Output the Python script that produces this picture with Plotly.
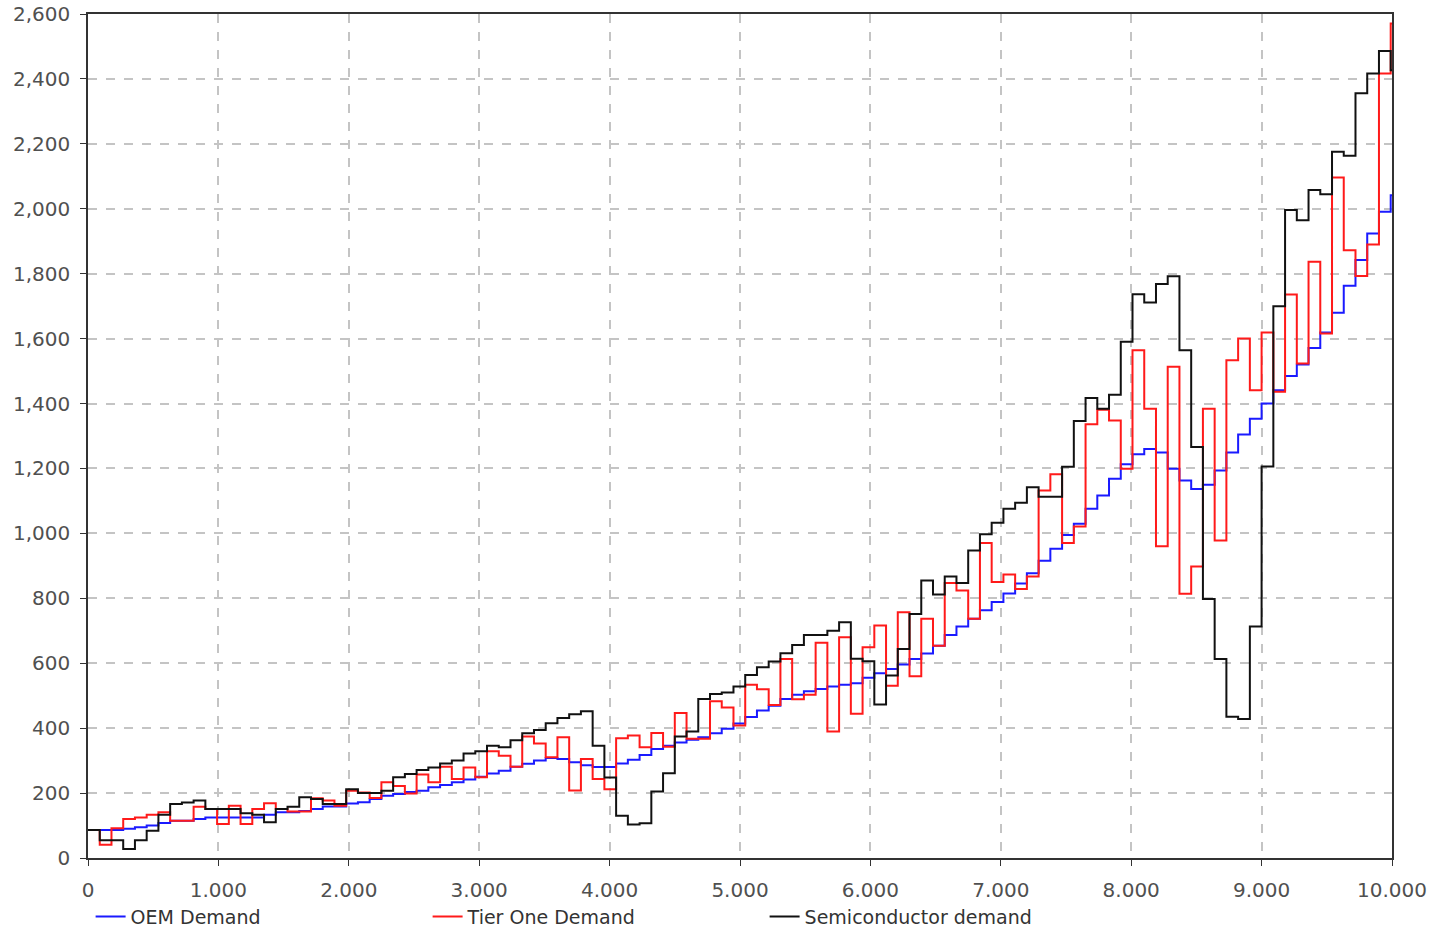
import plotly.graph_objects as go

STEP = 90  # time units per step
time = [STEP * k for k in range(112)] + [10000]

oem_demand = [
    86, 86, 86, 90, 95, 100, 108, 115, 115, 120, 125, 125, 125, 125, 125, 133, 141, 141, 145, 151, 159, 159, 168, 172, 182,
    192, 197, 203, 207, 218, 225, 233, 242, 250, 260, 269, 281, 290, 300, 308, 305, 295, 286, 280, 280, 291, 303, 317, 336, 346, 356, 364,
    372, 384, 398, 414, 434, 454, 469, 490, 503, 514, 521, 528, 534, 538, 555, 569, 582, 596, 613, 630, 654, 687, 713, 737,
    763, 789, 815, 846, 877, 916, 953, 995, 1030, 1076, 1117, 1168, 1213, 1244, 1260, 1249, 1199, 1163, 1137, 1150,
    1194, 1249, 1305, 1353, 1400, 1441, 1485, 1520, 1571, 1619, 1680, 1763, 1842, 1924, 1991, 2042,
]
tier_one_demand = [
    86, 41, 92, 120, 125, 133, 141, 115, 115, 158, 151, 105, 161, 105, 151, 169, 151, 143, 143, 184, 177, 161, 207, 202, 185,
    233, 222, 199, 257, 233, 281, 243, 279, 249, 329, 315, 281, 374, 353, 310, 372, 208, 305, 243, 212, 369, 377, 341, 385, 343, 447, 367,
    367, 483, 464, 408, 534, 520, 471, 613, 489, 503, 663, 390, 680, 444, 649, 716, 531, 757, 560, 737, 654, 847, 824, 737,
    970, 850, 873, 829, 867, 1132, 1182, 970, 1021, 1336, 1381, 1348, 1199, 1564, 1384, 960, 1513, 814, 898, 1384,
    978, 1533, 1600, 1441, 1619, 1436, 1736, 1523, 1837, 1616, 2096, 1872, 1793, 1890, 2417, 2571,
]
semiconductor_demand = [
    86, 55, 55, 28, 55, 84, 133, 166, 171, 177, 151, 151, 151, 138, 133, 110, 151, 158, 187, 182, 166, 166, 212, 200, 200,
    207, 249, 259, 271, 279, 291, 300, 322, 329, 346, 341, 363, 384, 394, 415, 431, 443, 452, 346, 248, 130, 103, 107, 205, 261, 374, 390,
    490, 505, 510, 528, 564, 588, 605, 631, 656, 687, 687, 700, 726, 614, 606, 473, 562, 644, 752, 855, 812, 867, 847, 947,
    997, 1033, 1076, 1094, 1142, 1113, 1113, 1205, 1346, 1417, 1384, 1427, 1590, 1737, 1711, 1768, 1792, 1564, 1266, 798,
    613, 435, 428, 713, 1206, 1700, 1996, 1965, 2058, 2045, 2176, 2163, 2356, 2417, 2486, 2427,
]

x_tickvals = [0, 1000, 2000, 3000, 4000, 5000, 6000, 7000, 8000, 9000, 10000]
x_ticktext = ["0", "1.000", "2.000", "3.000", "4.000", "5.000", "6.000", "7.000", "8.000", "9.000", "10.000"]
y_tickvals = [0, 200, 400, 600, 800, 1000, 1200, 1400, 1600, 1800, 2000, 2200, 2400, 2600]

series = [
    ("OEM Demand", oem_demand, "#1a1aff"),
    ("Tier One Demand", tier_one_demand, "#ff1a1a"),
    ("Semiconductor demand", semiconductor_demand, "#111111"),
]

fig = go.Figure()
for name, vals, color in series:
    fig.add_trace(go.Scatter(
        x=time, y=vals + [vals[-1]], mode="lines", name=name,
        line=dict(shape="hv", color=color, width=2),
    ))

font_family = "DejaVu Sans"
text_color = "#505050"
fig.update_layout(
    width=1430, height=928,
    margin=dict(l=88, r=38, t=14, b=70, autoexpand=False),
    paper_bgcolor="white", plot_bgcolor="white",
    font=dict(family=font_family, size=19, color=text_color),
    showlegend=True,
    legend=dict(
        orientation="h", x=0.002, xanchor="left", y=-0.047, yanchor="top",
        entrywidth=292, entrywidthmode="pixels",
        font=dict(family=font_family, size=19, color="#333333"),
        itemwidth=30, tracegroupgap=0,
    ),
    separators=".,",
)
fig.update_xaxes(
    range=[0, 10000], tickvals=x_tickvals, ticktext=x_ticktext,
    showgrid=True, gridcolor="#c4c4c4", gridwidth=1.5, griddash="dash",
    showline=True, linecolor="#333333", linewidth=1.5, mirror=True,
    ticks="outside", ticklen=6, tickcolor="#333333", ticklabelstandoff=7,
    tickfont=dict(family=font_family, size=20, color=text_color),
    zeroline=False,
)
fig.update_yaxes(
    range=[0, 2600], tickvals=y_tickvals, tickformat=",d",
    showgrid=True, gridcolor="#c4c4c4", gridwidth=1.5, griddash="dash",
    showline=True, linecolor="#333333", linewidth=1.5, mirror=True,
    ticks="outside", ticklen=6, tickcolor="#333333", ticklabelstandoff=6,
    tickfont=dict(family=font_family, size=20, color=text_color),
    zeroline=False,
)

# remove the default page margin so the 1430x928 figure fills the window exactly
fig.write_html(
    "out.html",
    config={"displayModeBar": False},
    post_script="document.body.style.margin='0';document.body.style.overflow='hidden';",
)
